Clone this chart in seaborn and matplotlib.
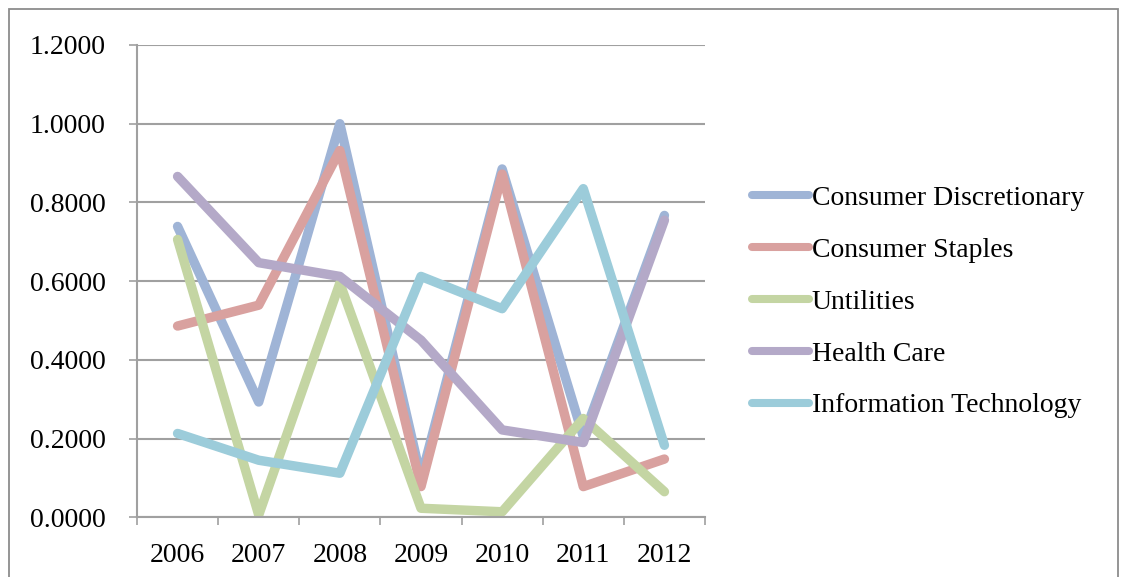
import matplotlib
matplotlib.use("Agg")
import matplotlib.pyplot as plt
from matplotlib.patches import Rectangle
from matplotlib.ticker import FixedLocator, FuncFormatter
import seaborn as sns
import pandas as pd

years = ["2006", "2007", "2008", "2009", "2010", "2011", "2012"]
sectors = ["Consumer Discretionary", "Consumer Staples", "Untilities",
           "Health Care", "Information Technology"]

consumer_discretionary = [0.739, 0.293, 1.000, 0.100, 0.885, 0.205, 0.767]
consumer_staples = [0.486, 0.539, 0.932, 0.078, 0.872, 0.078, 0.148]
utilities = [0.706, 0.006, 0.595, 0.023, 0.014, 0.251, 0.065]
health_care = [0.866, 0.647, 0.612, 0.450, 0.222, 0.190, 0.755]
information_technology = [0.213, 0.145, 0.112, 0.612, 0.530, 0.835, 0.183]

series = [consumer_discretionary, consumer_staples, utilities,
          health_care, information_technology]
colors = ["#9FB4D6", "#D9A19F", "#C4D5A3", "#B4A9C8", "#9CCCDA"]

rows = []
for name, vals in zip(sectors, series):
    for yr, v in zip(years, vals):
        rows.append({"Year": yr, "Value": v, "Sector": name})
df = pd.DataFrame(rows)

sns.set_theme(style="white")
plt.rcParams["font.family"] = ["Liberation Serif", "DejaVu Serif"]
plt.rcParams["text.color"] = "black"

FS = 20

fig = plt.figure(figsize=(11.22, 5.77), dpi=100)
ax = fig.add_axes([137 / 1122, 1 - 517.3 / 577, (705 - 137) / 1122, (517.3 - 45) / 577])

sns.lineplot(data=df, x="Year", y="Value", hue="Sector", hue_order=sectors,
             palette=colors, linewidth=6.8, ax=ax, legend=False, sort=False)
for line in ax.lines:
    line.set_solid_capstyle("round")
    line.set_solid_joinstyle("round")

ax.set_xlim(-0.5, len(years) - 0.5)
ax.set_ylim(0, 1.2)
ax.set_xlabel("")
ax.set_ylabel("")

grid_color = "#A0A0A0"
ax.set_yticks([0, 0.2, 0.4, 0.6, 0.8, 1.0, 1.2])
ax.yaxis.set_major_formatter(FuncFormatter(lambda v, p: f"{v:.4f}"))
ax.yaxis.grid(True, color=grid_color, linewidth=1.5)
ax.set_axisbelow(True)

ax.xaxis.set_major_locator(FixedLocator([i - 0.5 for i in range(len(years) + 1)]))
ax.xaxis.set_major_formatter(FuncFormatter(lambda v, p: ""))
ax.xaxis.set_minor_locator(FixedLocator(list(range(len(years)))))
ax.set_xticklabels(years, minor=True)

ax.tick_params(axis="y", which="major", direction="out", length=6, width=1.2,
               color=grid_color, pad=16.5, labelsize=FS, labelcolor="black", left=True)
ax.tick_params(axis="x", which="major", direction="out", length=6, width=1.2,
               color=grid_color, bottom=True)
ax.tick_params(axis="x", which="minor", length=0, pad=18.5, labelsize=FS,
               labelcolor="black")

for side in ["top", "right"]:
    ax.spines[side].set_visible(False)
for side in ["left", "bottom"]:
    ax.spines[side].set_color(grid_color)
    ax.spines[side].set_linewidth(1.5)

handles = [plt.Line2D([0], [0], color=c, linewidth=5.8, solid_capstyle="round")
           for c in colors]
fig.legend(handles, sectors, loc="center left", bbox_to_anchor=(752 / 1122, 1 - 302 / 577),
           frameon=False, fontsize=FS, handlelength=2.05, handletextpad=0.1,
           labelspacing=0.95, borderpad=0, borderaxespad=0, labelcolor="black")

fig.patches.append(Rectangle((9 / 1122, -0.05), (1118 - 9) / 1122, 1.05 - 9 / 577,
                             transform=fig.transFigure, fill=False,
                             edgecolor="#8C8C8C", linewidth=1.3))

fig.savefig("out.png", dpi=100)
